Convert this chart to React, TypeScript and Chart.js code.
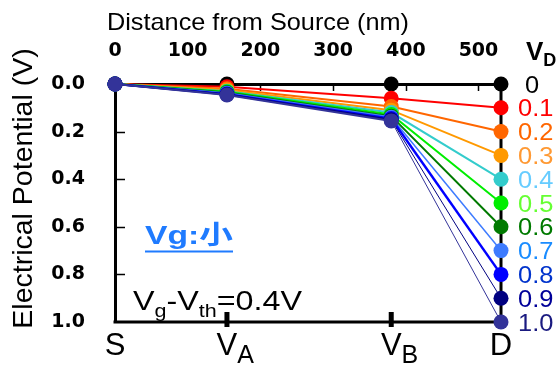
import React, { useEffect, useRef } from "react";
import { Chart, registerables } from "chart.js";

Chart.register(...registerables);

// ---- data ----
const distanceNm = [0, 154, 380, 531]; // S, VA, VB, D
const drainVoltages = [0, 0.1, 0.2, 0.3, 0.4, 0.5, 0.6, 0.7, 0.8, 0.9, 1.0];
const drainVoltageLabels = ["0", "0.1", "0.2", "0.3", "0.4", "0.5", "0.6", "0.7", "0.8", "0.9", "1.0"];
const potentialAtS = [0, 0, 0, 0, 0, 0, 0, 0, 0, 0, 0];
const potentialAtVA = [0, 0.012, 0.02, 0.025, 0.03, 0.033, 0.036, 0.039, 0.042, 0.044, 0.046];
const potentialAtVB = [0, 0.06, 0.095, 0.11, 0.12, 0.128, 0.135, 0.14, 0.145, 0.15, 0.155];
const potentialAtD = [0, 0.1, 0.2, 0.3, 0.4, 0.5, 0.6, 0.7, 0.8, 0.9, 1.0];
const nodeNames = ["S", "V", "V", "D"];
const nodeSubscripts = ["", "A", "B", ""];

// ---- styles ----
const lineColors = ["#000000", "#ff0000", "#ff6600", "#ff9900", "#33cccc", "#00ee00", "#007a00", "#3d7bff", "#0000ff", "#000080", "#333399"];
const labelColors = ["#000000", "#ff0000", "#ff6600", "#ff9933", "#66ccff", "#66ff33", "#007a00", "#1a8cff", "#0033cc", "#000099", "#1a1a80"];
const lastSegmentWidths = [2, 2, 2, 2, 2, 2, 2, 1.5, 2.5, 1, 1];

type Run = { text: string; font: string; dy?: number };

function drawRuns(
  ctx: CanvasRenderingContext2D,
  runs: Run[],
  x: number,
  y: number,
  align: "left" | "center" | "right",
  color: string,
  targetWidth?: number
) {
  let raw = 0;
  const widths = runs.map((r) => {
    ctx.font = r.font;
    const w = ctx.measureText(r.text).width;
    raw += w;
    return w;
  });
  const sx = targetWidth ? targetWidth / raw : 1;
  const total = raw * sx;
  let cx = align === "left" ? x : align === "center" ? x - total / 2 : x - total;
  const start = cx;
  runs.forEach((r, i) => {
    ctx.save();
    ctx.font = r.font;
    ctx.fillStyle = color;
    ctx.textAlign = "left";
    ctx.textBaseline = "alphabetic";
    ctx.translate(cx, y + (r.dy || 0));
    ctx.scale(sx, 1);
    ctx.fillText(r.text, 0, 0);
    ctx.restore();
    cx += widths[i] * sx;
  });
  return { left: start, width: total };
}

const ARIAL = "'Liberation Sans', Arial, sans-serif";

const decorPlugin = {
  id: "decor",
  beforeDatasetsDraw(chart: any) {
    const { ctx, chartArea: a, scales } = chart;
    const xs = scales.x;
    const ys = scales.y;
    ctx.save();
    ctx.strokeStyle = "#000";
    ctx.lineWidth = 3;
    ctx.beginPath();
    ctx.moveTo(a.right, a.top - 1.5);
    ctx.lineTo(a.right, a.bottom + 1.5);
    ctx.moveTo(a.left - 1.5, a.bottom);
    ctx.lineTo(a.right + 1.5, a.bottom);
    ctx.stroke();
    ctx.lineWidth = 1.5;
    ctx.beginPath();
    ys.ticks.forEach((t: any) => {
      if (t.value <= 0 || t.value >= 1) return;
      const py = Math.round(ys.getPixelForValue(t.value)) + 0.5;
      ctx.moveTo(a.left, py);
      ctx.lineTo(a.left + 10, py);
    });
    xs.ticks.forEach((t: any) => {
      if (t.value <= 0) return;
      const px = Math.round(xs.getPixelForValue(t.value)) + 0.5;
      ctx.moveTo(px, a.top);
      ctx.lineTo(px, a.top + 7);
    });
    ctx.stroke();
    ctx.lineWidth = 5;
    ctx.beginPath();
    [1, 2].forEach((j) => {
      const px = xs.getPixelForValue(distanceNm[j]);
      ctx.moveTo(px, a.bottom - 10);
      ctx.lineTo(px, a.bottom + 5);
    });
    ctx.stroke();
    ctx.restore();
  },
  afterDraw(chart: any) {
    const { ctx, scales } = chart;
    const xs = scales.x;
    const ys = scales.y;
    ctx.save();
    drawRuns(ctx, [{ text: "Distance from Source (nm)", font: `24px ${ARIAL}` }], 258, 30, "center", "#000", 302);
    ctx.save();
    ctx.translate(32, 188.5);
    ctx.rotate(-Math.PI / 2);
    ctx.font = `28.5px ${ARIAL}`;
    ctx.fillStyle = "#000";
    ctx.textAlign = "center";
    ctx.textBaseline = "alphabetic";
    ctx.fillText("Electrical Potential (V)", 0, 0);
    ctx.restore();

    distanceNm.forEach((d, j) => {
      const px = xs.getPixelForValue(d);
      ctx.font = `31px ${ARIAL}`;
      const w = ctx.measureText(nodeNames[j]).width;
      drawRuns(ctx, [{ text: nodeNames[j], font: `31px ${ARIAL}` }], px - w / 2, 355, "left", "#000");
      if (nodeSubscripts[j]) {
        drawRuns(ctx, [{ text: nodeSubscripts[j], font: `25px ${ARIAL}` }], px + w / 2, 363, "left", "#000");
      }
    });

    const hv = drawRuns(ctx, [{ text: "V", font: `bold 26px ${ARIAL}` }], 526, 60, "left", "#000");
    drawRuns(ctx, [{ text: "D", font: `bold 18px ${ARIAL}` }], hv.left + hv.width, 66, "left", "#000");

    drainVoltageLabels.forEach((lab, i) => {
      const py = ys.getPixelForValue(potentialAtD[i]);
      ctx.font = `24px ${ARIAL}`;
      const w = ctx.measureText(lab).width * 1.06;
      drawRuns(ctx, [{ text: lab, font: `24px ${ARIAL}` }], i === 0 ? 525 : 518, py + 8.5, "left", labelColors[i], w);
    });

    const blue = "#1f7bff";
    const r = drawRuns(
      ctx,
      [
        { text: "Vg:", font: `bold 26px ${ARIAL}` },
        { text: "小", font: `bold 26px 'Noto Sans CJK SC', sans-serif` },
      ],
      145,
      244,
      "left",
      blue,
      88
    );
    ctx.fillStyle = blue;
    ctx.fillRect(r.left, 250.5, r.width, 2);

    drawRuns(
      ctx,
      [
        { text: "V", font: `28.5px ${ARIAL}` },
        { text: "g", font: `19px ${ARIAL}`, dy: 7 },
        { text: "-V", font: `28.5px ${ARIAL}` },
        { text: "th", font: `19px ${ARIAL}`, dy: 7 },
        { text: "=0.4V", font: `28.5px ${ARIAL}` },
      ],
      133,
      309.5,
      "left",
      "#000",
      169
    );
    ctx.restore();
  },
};

export default function App() {
  const canvasRef = useRef<HTMLCanvasElement | null>(null);

  useEffect(() => {
    if (!canvasRef.current) return;
    const columns = [potentialAtS, potentialAtVA, potentialAtVB, potentialAtD];
    const datasets = drainVoltages.map((vd, i) => ({
      label: drainVoltageLabels[i],
      data: distanceNm.map((d, j) => ({ x: d, y: columns[j][i] })),
      borderColor: lineColors[i],
      backgroundColor: lineColors[i],
      pointBackgroundColor: lineColors[i],
      pointBorderColor: lineColors[i],
      pointBorderWidth: 0,
      pointRadius: 7.5,
      borderWidth: 2,
      tension: 0,
      clip: false as any,
      order: drainVoltages.length - i,
      segment: {
        borderWidth: (c: any) => (c.p1DataIndex === distanceNm.length - 1 ? lastSegmentWidths[i] : 2),
      },
    }));

    const chart = new Chart(canvasRef.current, {
      type: "line",
      data: { datasets },
      options: {
        responsive: false,
        animation: false,
        layout: { padding: { left: 0, top: 0, right: 55, bottom: 43 } },
        plugins: { legend: { display: false }, tooltip: { enabled: false } },
        scales: {
          x: {
            type: "linear",
            position: "top",
            min: 0,
            max: 531,
            ticks: {
              stepSize: 100,
              includeBounds: false,
              autoSkip: false,
              maxRotation: 0,
              padding: 22,
              color: "#000",
              font: { family: "'DejaVu Sans'", weight: "bold", size: 19 },
            },
            grid: { display: false, drawTicks: false },
            border: { display: true, color: "#000", width: 3 },
            afterFit: (s: any) => {
              s.height = 84;
            },
          },
          y: {
            type: "linear",
            reverse: true,
            min: 0,
            max: 1,
            ticks: {
              stepSize: 0.2,
              padding: 30,
              color: "#000",
              font: { family: "'DejaVu Sans'", weight: "bold", size: 19 },
              callback: (v: any) => Number(v).toFixed(1),
            },
            grid: { display: false, drawTicks: false },
            border: { display: true, color: "#000", width: 3 },
            afterFit: (s: any) => {
              s.width = 115;
            },
          },
        },
      } as any,
      plugins: [decorPlugin],
    });
    return () => chart.destroy();
  }, []);

  return (
    <div style={{ position: "absolute", left: 0, top: 0, width: 556, height: 365, background: "#fff" }}>
      <canvas ref={canvasRef} width={556} height={365} style={{ display: "block" }} />
    </div>
  );
}
